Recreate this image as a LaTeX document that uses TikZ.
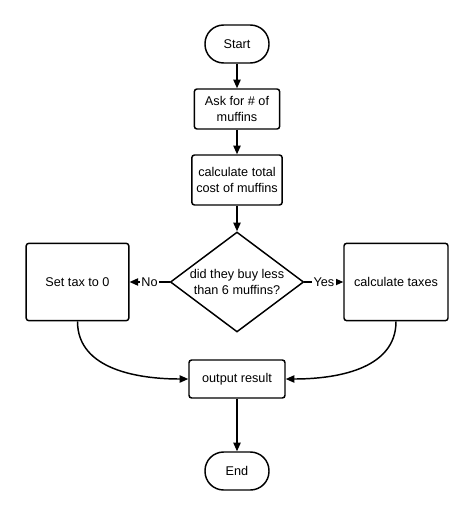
\documentclass[tikz,border=0pt]{standalone}
\usepackage{fontspec}
\setmainfont{Liberation Sans}
\usepackage{tikz}
\usetikzlibrary{shapes.geometric, arrows.meta}

\begin{document}
\begin{tikzpicture}[x=0.75pt, y=-0.75pt]
  \useasboundingbox (0,0) rectangle (474,517);
  \begin{scope} [
    every node/.style={draw, line width=1.1pt, align=center, font=\fontsize{9.5}{11.5}\selectfont},
    terminal/.style={rounded corners=14pt, minimum width=48pt, minimum height=28.5pt},
    process/.style={rounded corners=2pt, minimum width=64pt, minimum height=30pt},
    decision/.style={diamond, shape aspect=1.33, minimum width=100pt, minimum height=75pt, inner sep=0pt},
    flow/.style={line width=1.1pt, -{Triangle[length=6.5pt, width=5.5pt]}},
    answer/.style={draw=none, fill=white, inner sep=1pt}]
    \node [terminal] (start) at (237,44) {Start};
    \node [process] (ask) at (237,109) {Ask for \# of\\muffins};
    \node [process, minimum height=37.5pt] (total) at (237,180) {calculate total\\cost of muffins};
    \node [decision] (less) at (237,282) {did they buy less\\than 6 muffins?};
    \node [process, minimum width=77pt, minimum height=58pt] (notax) at (77.5,282) {Set tax to 0};
    \node [process, minimum width=78pt, minimum height=58pt] (taxes) at (396,282) {calculate taxes};
    \node [process, minimum width=72pt, minimum height=28.5pt] (result) at (237,379) {output result};
    \node [terminal] (end) at (237,471) {End};

    \draw [flow] (start) -- (ask);
    \draw [flow] (ask) -- (total);
    \draw [flow] (total) -- (less);
    \draw [flow] (less.west) -- node [answer] {No} (notax.east);
    \draw [flow] (less.east) -- node [answer] {Yes} (taxes.west);
    \draw [flow] (notax.south) to [out=-90, in=180] (result.west);
    \draw [flow] (taxes.south) to [out=-90, in=0] (result.east);
    \draw [flow] (result) -- (end);
  \end{scope}
\end{tikzpicture}
\end{document}
